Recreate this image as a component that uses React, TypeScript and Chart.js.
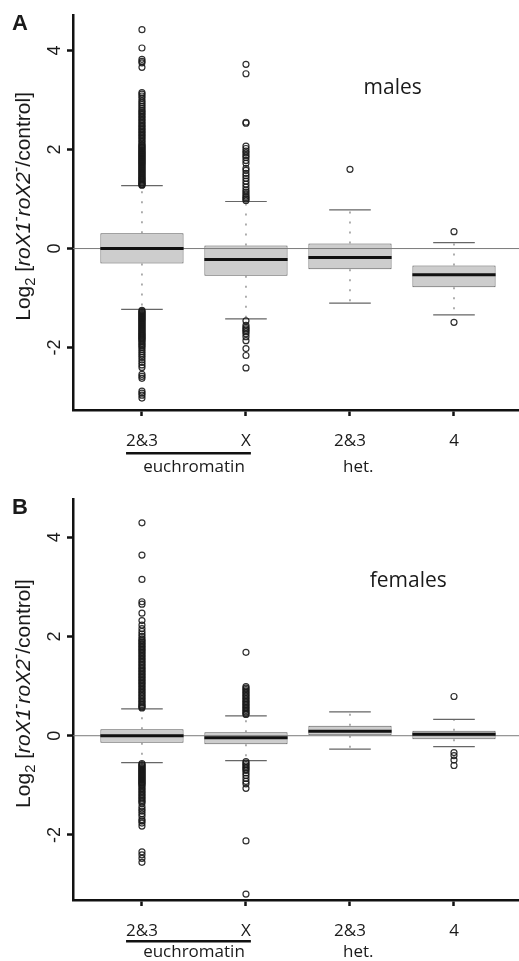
import { useEffect, useRef } from 'react';
import { Chart, registerables } from 'chart.js';

Chart.register(...registerables);

// Chromosome categories on the x axis
const categories = ['2&3', 'X', '2&3', '4'];
const categoryPositions = [1, 2, 3, 4];
const yTickValues = [-2, 0, 2, 4];
const referenceLevel = 0;
const groupLabels = ['euchromatin', 'het.'];

// ---- males: box summaries (Q1, median, Q3, whisker ends) ----
const malesQ1 = [-0.3, -0.55, -0.42, -0.78];
const malesMedian = [0.0, -0.22, -0.18, -0.53];
const malesQ3 = [0.31, 0.06, 0.1, -0.34];
const malesWhiskerLow = [-1.23, -1.42, -1.1, -1.34];
const malesWhiskerHigh = [1.27, 0.95, 0.78, 0.12];

const malesOutliersEu23 = [
  4.42, 4.05, 3.82, 3.78, 3.75, 3.66, 3.15, 3.12, 3.08, 3.04, 2.99, 2.95, 2.91, 2.87, 2.83, 2.79,
  2.76, 2.73, 2.7, 2.67, 2.64, 2.61, 2.58, 2.55, 2.52, 2.49, 2.46, 2.43, 2.4, 2.37, 2.34, 2.31,
  2.28, 2.25, 2.22, 2.19, 2.16, 2.13, 2.1, 2.08, 2.06, 2.04, 2.02, 2.0, 1.98, 1.96, 1.94, 1.92,
  1.9, 1.88, 1.86, 1.84, 1.82, 1.8, 1.78, 1.76, 1.74, 1.72, 1.7, 1.68, 1.66, 1.64, 1.62, 1.6,
  1.58, 1.56, 1.54, 1.52, 1.5, 1.48, 1.46, 1.44, 1.42, 1.4, 1.38, 1.36, 1.34, 1.32, 1.3, 1.29,
  1.28,
  -1.25, -1.27, -1.29, -1.31, -1.33, -1.35, -1.37, -1.39, -1.41, -1.43, -1.45, -1.47, -1.49,
  -1.51, -1.53, -1.55, -1.57, -1.59, -1.61, -1.63, -1.65, -1.67, -1.69, -1.71, -1.73, -1.75,
  -1.77, -1.79, -1.81, -1.83, -1.85, -1.88, -1.91, -1.94, -1.97, -2.0, -2.04, -2.08, -2.12,
  -2.16, -2.2, -2.25, -2.3, -2.35, -2.4, -2.54, -2.58, -2.62, -2.88, -2.92, -2.96, -3.02,
];
const malesOutliersEuX = [
  3.72, 3.53, 2.55, 2.53, 2.07, 2.02, 1.97, 1.93, 1.88, 1.84, 1.78, 1.72, 1.62, 1.58, 1.52, 1.47,
  1.42, 1.36, 1.3, 1.24, 1.18, 1.14, 1.1, 1.06, 1.03, 1.0, 0.97,
  -1.46, -1.55, -1.59, -1.62, -1.65, -1.68, -1.72, -1.78, -1.86, -2.02, -2.16, -2.41,
];
const malesOutliersHet23 = [1.6];
const malesOutliersChr4 = [0.34, -1.49];

// ---- females: box summaries ----
const femalesQ1 = [-0.14, -0.17, 0.0, -0.07];
const femalesMedian = [0.0, -0.04, 0.09, 0.03];
const femalesQ3 = [0.13, 0.07, 0.2, 0.1];
const femalesWhiskerLow = [-0.54, -0.5, -0.27, -0.22];
const femalesWhiskerHigh = [0.54, 0.4, 0.48, 0.33];

const femalesOutliersEu23 = [
  4.29, 3.64, 3.15, 2.7, 2.65, 2.47, 2.32, 2.23, 2.16, 2.1, 2.05, 2.0, 1.95, 1.92, 1.89, 1.86,
  1.83, 1.8, 1.77, 1.74, 1.71, 1.68, 1.65, 1.62, 1.59, 1.56, 1.53, 1.5, 1.47, 1.44, 1.41, 1.38,
  1.35, 1.32, 1.29, 1.26, 1.23, 1.2, 1.17, 1.14, 1.11, 1.08, 1.05, 1.02, 0.99, 0.96, 0.93, 0.9,
  0.87, 0.84, 0.81, 0.78, 0.75, 0.72, 0.69, 0.66, 0.63, 0.6, 0.58, 0.56,
  -0.56, -0.58, -0.6, -0.62, -0.64, -0.66, -0.68, -0.7, -0.72, -0.74, -0.76, -0.78, -0.8, -0.82,
  -0.84, -0.86, -0.88, -0.9, -0.92, -0.94, -0.96, -0.98, -1.0, -1.03, -1.06, -1.09, -1.12,
  -1.15, -1.18, -1.21, -1.24, -1.27, -1.3, -1.33, -1.36, -1.43, -1.48, -1.52, -1.57, -1.62,
  -1.69, -1.72, -1.76, -1.82, -2.34, -2.4, -2.47, -2.55,
];
const femalesOutliersEuX = [
  1.68, 0.99, 0.96, 0.93, 0.9, 0.87, 0.84, 0.81, 0.78, 0.75, 0.72, 0.69, 0.66, 0.63, 0.6, 0.57,
  0.54, 0.51, 0.48, 0.45, 0.43,
  -0.52, -0.55, -0.58, -0.61, -0.64, -0.67, -0.7, -0.75, -0.8, -0.86, -0.92, -0.97, -1.06,
  -2.12, -3.19,
];
const femalesOutliersHet23: number[] = [];
const femalesOutliersChr4 = [0.79, -0.34, -0.4, -0.49, -0.6];

// ---- shared geometry / style ----
const WIDTH = 519;
const X_MIN = 0.337;
const X_MAX = 4.625;
const BOX_HALF = 0.4;
const CAP_HALF = 0.2;
const Y_AXIS_WIDTH = 73;
const AXIS_COLOR = '#111';
const TEXT_COLOR = '#1a1a1a';
const X_FONT_FAMILY = '"Open Sans", "Noto Sans", sans-serif';
const Y_FONT_FAMILY = '"Liberation Sans", Arial, sans-serif';

interface Panel {
  letter: string;
  note: string;
  noteAt: [number, number];
  letterBaseline: number;
  q1: number[];
  median: number[];
  q3: number[];
  low: number[];
  high: number[];
  outliers: number[][];
  yMin: number;
  yMax: number;
  height: number;
  padTop: number;
  xAxisHeight: number;
  underlineOffset: number;
  groupBaseline: number;
}

const malesPanel: Panel = {
  letter: 'A',
  note: 'males',
  noteAt: [3.41, 3.12],
  letterBaseline: 30,
  q1: malesQ1,
  median: malesMedian,
  q3: malesQ3,
  low: malesWhiskerLow,
  high: malesWhiskerHigh,
  outliers: [malesOutliersEu23, malesOutliersEuX, malesOutliersHet23, malesOutliersChr4],
  yMin: -3.26,
  yMax: 4.72,
  height: 480,
  padTop: 12,
  xAxisHeight: 70,
  underlineOffset: 42,
  groupBaseline: 62,
};

const femalesPanel: Panel = {
  letter: 'B',
  note: 'females',
  noteAt: [3.56, 3.0],
  letterBaseline: 34,
  q1: femalesQ1,
  median: femalesMedian,
  q3: femalesQ3,
  low: femalesWhiskerLow,
  high: femalesWhiskerHigh,
  outliers: [femalesOutliersEu23, femalesOutliersEuX, femalesOutliersHet23, femalesOutliersChr4],
  yMin: -3.31,
  yMax: 4.77,
  height: 481,
  padTop: 19,
  xAxisHeight: 61,
  underlineOffset: 40,
  groupBaseline: 57,
};

// Rotated y-axis title with subscript, italics and superscripts
function drawYTitle(ctx: CanvasRenderingContext2D, baselineX: number, centerY: number, size: number) {
  const parts = [
    { text: 'Log', italic: false, scale: 1, shift: 0 },
    { text: '2', italic: false, scale: 0.7, shift: 0.22 },
    { text: ' [', italic: false, scale: 1, shift: 0 },
    { text: 'roX1', italic: true, scale: 1, shift: 0 },
    { text: '-', italic: false, scale: 0.75, shift: -0.42 },
    { text: 'roX2', italic: true, scale: 1, shift: 0 },
    { text: '-', italic: false, scale: 0.75, shift: -0.42 },
    { text: '/control]', italic: false, scale: 1, shift: 0 },
  ];
  const fontFor = (p: (typeof parts)[number]) =>
    `${p.italic ? 'italic ' : ''}${size * p.scale}px ${Y_FONT_FAMILY}`;
  ctx.save();
  ctx.translate(baselineX, centerY);
  ctx.rotate(-Math.PI / 2);
  ctx.textAlign = 'left';
  ctx.textBaseline = 'alphabetic';
  ctx.fillStyle = TEXT_COLOR;
  let total = 0;
  const widths = parts.map((p) => {
    ctx.font = fontFor(p);
    const w = ctx.measureText(p.text).width;
    total += w;
    return w;
  });
  let pos = -total / 2;
  parts.forEach((p, i) => {
    ctx.font = fontFor(p);
    ctx.fillText(p.text, pos, p.shift * size);
    pos += widths[i];
  });
  ctx.restore();
}

function annotationPlugin(panel: Panel) {
  return {
    id: 'panelAnnotations',
    afterDraw(chart: Chart) {
      const { ctx, chartArea } = chart;
      const x = chart.scales.x;
      const y = chart.scales.y;
      ctx.save();
      ctx.fillStyle = TEXT_COLOR;

      // panel letter
      ctx.font = `bold 22px ${Y_FONT_FAMILY}`;
      ctx.textAlign = 'left';
      ctx.textBaseline = 'alphabetic';
      ctx.fillText(panel.letter, 12, panel.letterBaseline);

      // sex label inside the plot
      ctx.font = `21px ${X_FONT_FAMILY}`;
      ctx.textAlign = 'center';
      ctx.fillText(panel.note, x.getPixelForValue(panel.noteAt[0]), y.getPixelForValue(panel.noteAt[1]));

      // chromatin group labels under the category ticks
      const axisY = chartArea.bottom;
      ctx.font = `17px ${X_FONT_FAMILY}`;
      const left = x.getPixelForValue(categoryPositions[0]) - ctx.measureText(categories[0]).width / 2;
      const right = x.getPixelForValue(categoryPositions[1]) + ctx.measureText(categories[1]).width / 2;
      ctx.fillStyle = AXIS_COLOR;
      ctx.fillRect(left, axisY + panel.underlineOffset, right - left, 2.5);
      ctx.fillStyle = TEXT_COLOR;
      ctx.fillText(groupLabels[0], x.getPixelForValue(1.5), axisY + panel.groupBaseline);
      ctx.fillText(groupLabels[1], x.getPixelForValue(3.08), axisY + panel.groupBaseline);

      // y-axis title
      drawYTitle(ctx, 30, (chartArea.top + chartArea.bottom) / 2 - 6, 21);
      ctx.restore();
    },
  };
}

function buildConfig(panel: Panel): any {
  const stems: any[] = [];
  const caps: any[] = [];
  const medians: any[] = [];
  const points: any[] = [];
  categoryPositions.forEach((c, i) => {
    stems.push(
      { x: c, y: panel.q3[i] }, { x: c, y: panel.high[i] }, { x: c, y: null },
      { x: c, y: panel.q1[i] }, { x: c, y: panel.low[i] }, { x: c, y: null },
    );
    caps.push(
      { x: c - CAP_HALF, y: panel.high[i] }, { x: c + CAP_HALF, y: panel.high[i] }, { x: c, y: null },
      { x: c - CAP_HALF, y: panel.low[i] }, { x: c + CAP_HALF, y: panel.low[i] }, { x: c, y: null },
    );
    medians.push({ x: c - BOX_HALF, y: panel.median[i] }, { x: c + BOX_HALF, y: panel.median[i] }, { x: c, y: null });
    panel.outliers[i].forEach((v) => points.push({ x: c, y: v }));
  });

  const lineBase = { pointRadius: 0, pointHitRadius: 0, fill: false, spanGaps: false, tension: 0 };

  return {
    type: 'bar',
    data: {
      datasets: [
        {
          type: 'bar',
          label: 'box',
          data: categoryPositions.map((c, i) => ({ x: c, y: [panel.q1[i], panel.q3[i]] })),
          backgroundColor: '#cdcdcd',
          borderColor: '#5a5a5a',
          borderWidth: 1,
          borderSkipped: false,
          barPercentage: BOX_HALF * 2,
          categoryPercentage: 1,
          order: 6,
        },
        {
          type: 'line',
          label: 'reference',
          data: [{ x: X_MIN, y: referenceLevel }, { x: X_MAX, y: referenceLevel }],
          borderColor: '#7a7a7a',
          borderWidth: 1,
          ...lineBase,
          order: 5,
        },
        {
          type: 'line',
          label: 'whiskers',
          data: stems,
          borderColor: '#8c8c8c',
          borderWidth: 1.4,
          borderDash: [2, 8],
          ...lineBase,
          order: 4,
        },
        {
          type: 'line',
          label: 'caps',
          data: caps,
          borderColor: '#666',
          borderWidth: 1.2,
          ...lineBase,
          order: 3,
        },
        {
          type: 'line',
          label: 'median',
          data: medians,
          borderColor: '#111',
          borderWidth: 3,
          ...lineBase,
          order: 2,
        },
        {
          type: 'scatter',
          label: 'outliers',
          data: points,
          pointStyle: 'circle',
          pointRadius: 3,
          pointBorderWidth: 1.2,
          pointBackgroundColor: 'rgba(0,0,0,0)',
          pointBorderColor: 'rgba(25,25,25,0.9)',
          order: 1,
        },
      ],
    },
    options: {
      responsive: false,
      animation: false,
      events: [],
      layout: { padding: { top: panel.padTop, left: 0, right: 0, bottom: 0 }, autoPadding: false },
      plugins: { legend: { display: false }, tooltip: { enabled: false }, title: { display: false } },
      scales: {
        x: {
          type: 'linear',
          min: X_MIN,
          max: X_MAX,
          offset: false,
          grid: {
            display: true,
            drawOnChartArea: false,
            offset: false,
            tickLength: 6,
            tickWidth: 2.5,
            tickColor: AXIS_COLOR,
          },
          border: { display: true, color: AXIS_COLOR, width: 2.5 },
          ticks: {
            autoSkip: false,
            maxRotation: 0,
            minRotation: 0,
            padding: 15,
            color: TEXT_COLOR,
            font: { family: X_FONT_FAMILY, size: 17 },
            callback: (v: number) => {
              const i = categoryPositions.indexOf(v);
              return i >= 0 ? categories[i] : '';
            },
          },
          afterBuildTicks: (s: any) => {
            s.ticks = categoryPositions.map((v) => ({ value: v }));
          },
          afterFit: (s: any) => {
            s.height = panel.xAxisHeight;
          },
        },
        y: {
          type: 'linear',
          min: panel.yMin,
          max: panel.yMax,
          grid: {
            display: true,
            drawOnChartArea: false,
            tickLength: 6,
            tickWidth: 2.5,
            tickColor: AXIS_COLOR,
          },
          border: { display: true, color: AXIS_COLOR, width: 2.5 },
          ticks: {
            padding: 4,
            crossAlign: 'center',
            minRotation: 90,
            maxRotation: 90,
            color: TEXT_COLOR,
            font: { family: Y_FONT_FAMILY, size: 18 },
            callback: (v: number) => String(v),
          },
          afterBuildTicks: (s: any) => {
            s.ticks = yTickValues.map((v) => ({ value: v }));
          },
          afterFit: (s: any) => {
            s.width = Y_AXIS_WIDTH;
          },
        },
      },
    },
    plugins: [annotationPlugin(panel)],
  };
}

function BoxPanel({ panel }: { panel: Panel }) {
  const ref = useRef<HTMLCanvasElement>(null);
  useEffect(() => {
    if (!ref.current) return;
    const chart = new Chart(ref.current, buildConfig(panel));
    return () => chart.destroy();
  }, [panel]);
  return (
    <canvas
      ref={ref}
      width={WIDTH}
      height={panel.height}
      style={{ display: 'block', width: WIDTH, height: panel.height }}
    />
  );
}

export default function App() {
  return (
    <div style={{ position: 'absolute', left: 0, top: 0, width: WIDTH, height: 961, background: '#fff' }}>
      <BoxPanel panel={malesPanel} />
      <BoxPanel panel={femalesPanel} />
    </div>
  );
}
